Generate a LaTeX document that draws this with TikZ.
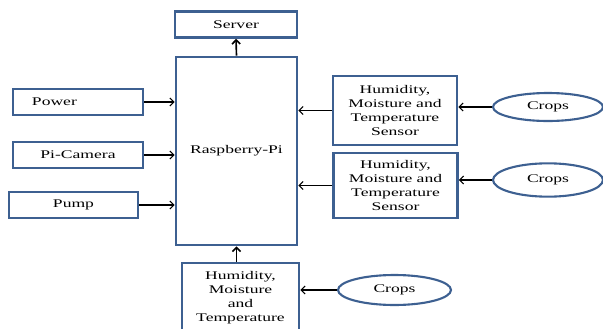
\documentclass[tikz,border=0pt]{standalone}
\usepackage{fontspec}
\setmainfont[FakeStretch=1.5]{Liberation Serif}
\usetikzlibrary{arrows.meta,positioning,shapes.geometric}
\definecolor{bordblue}{RGB}{61,96,145}
\tikzset{
  blk/.style={draw=bordblue,rectangle,line width=2.2pt,align=center,inner sep=2pt},
  sensblk/.style={blk,minimum width=3.72cm},
  cropnd/.style={draw=bordblue,ellipse,line width=1.8pt,minimum width=3.3cm,inner sep=0pt},
  arr/.style={-{Straight Barb[length=3.5pt,width=7pt]},line width=0.9pt},
  tharr/.style={arr,line width=1.4pt}
}

\begin{document}
\begin{tikzpicture}[x=0.03cm,y=-0.03cm]
  \useasboundingbox (0,0) rectangle (603,329);
  \clip (0,0) rectangle (603,329);
  % Controller and Server
  \node[blk, minimum width=3.63cm, minimum height=5.64cm] (pi) at (236.5,151) {Raspberry-Pi};
  \node[blk, minimum width=3.66cm, minimum height=0.78cm] (server) at (236,24.5) {Server};

  % Inputs on the left
  \node[blk, minimum width=3.9cm, minimum height=0.78cm, text width=3.7cm, align=left] (power) at (78,102) {\hspace*{0.47cm}Power};
  \node[blk, minimum width=3.9cm, minimum height=0.78cm] (picam) at (78,155) {Pi-Camera};
  \node[blk, minimum width=3.87cm, minimum height=0.78cm] (pump) at (73.5,205) {Pump};

  % Sensors
  \node[sensblk, minimum height=2.07cm] (sens1) at (395,110.5) {Humidity,\\Moisture and\\Temperature\\Sensor};
  \node[sensblk, minimum height=1.95cm] (sens2) at (395.5,185.5) {Humidity,\\Moisture and\\Temperature\\Sensor};
  \node[blk, minimum width=3.51cm, minimum height=2.1cm] (sens3) at (240.5,298) {Humidity,\\Moisture\\and\\Temperature};

  % Crops
  \node[cropnd, minimum height=0.84cm] (crop1) at (548,107) {Crops};
  \node[cropnd, minimum height=1.0cm] (crop2) at (548,180) {Crops};
  \node[cropnd, minimum width=3.39cm, minimum height=0.9cm] (crop3) at (394.5,290) {Crops};

  % Connections
  \draw[tharr] (pi.north) -- (server.south);
  \draw[arr] (power.east) -- (power.east -| pi.west);
  \draw[arr] (picam.east) -- (picam.east -| pi.west);
  \draw[arr] (pump.east) -- (pump.east -| pi.west);
  \draw[arr] (sens1.west) -- (sens1.west -| pi.east);
  \draw[arr] (sens2.west) -- (sens2.west -| pi.east);
  \draw[tharr] (sens3.north -| pi.south) -- (pi.south);
  \draw[arr] (crop1.west) -- (crop1.west -| sens1.east);
  \draw[arr] (crop2.west) -- (crop2.west -| sens2.east);
  \draw[arr] (crop3.west) -- (crop3.west -| sens3.east);
\end{tikzpicture}
\end{document}
